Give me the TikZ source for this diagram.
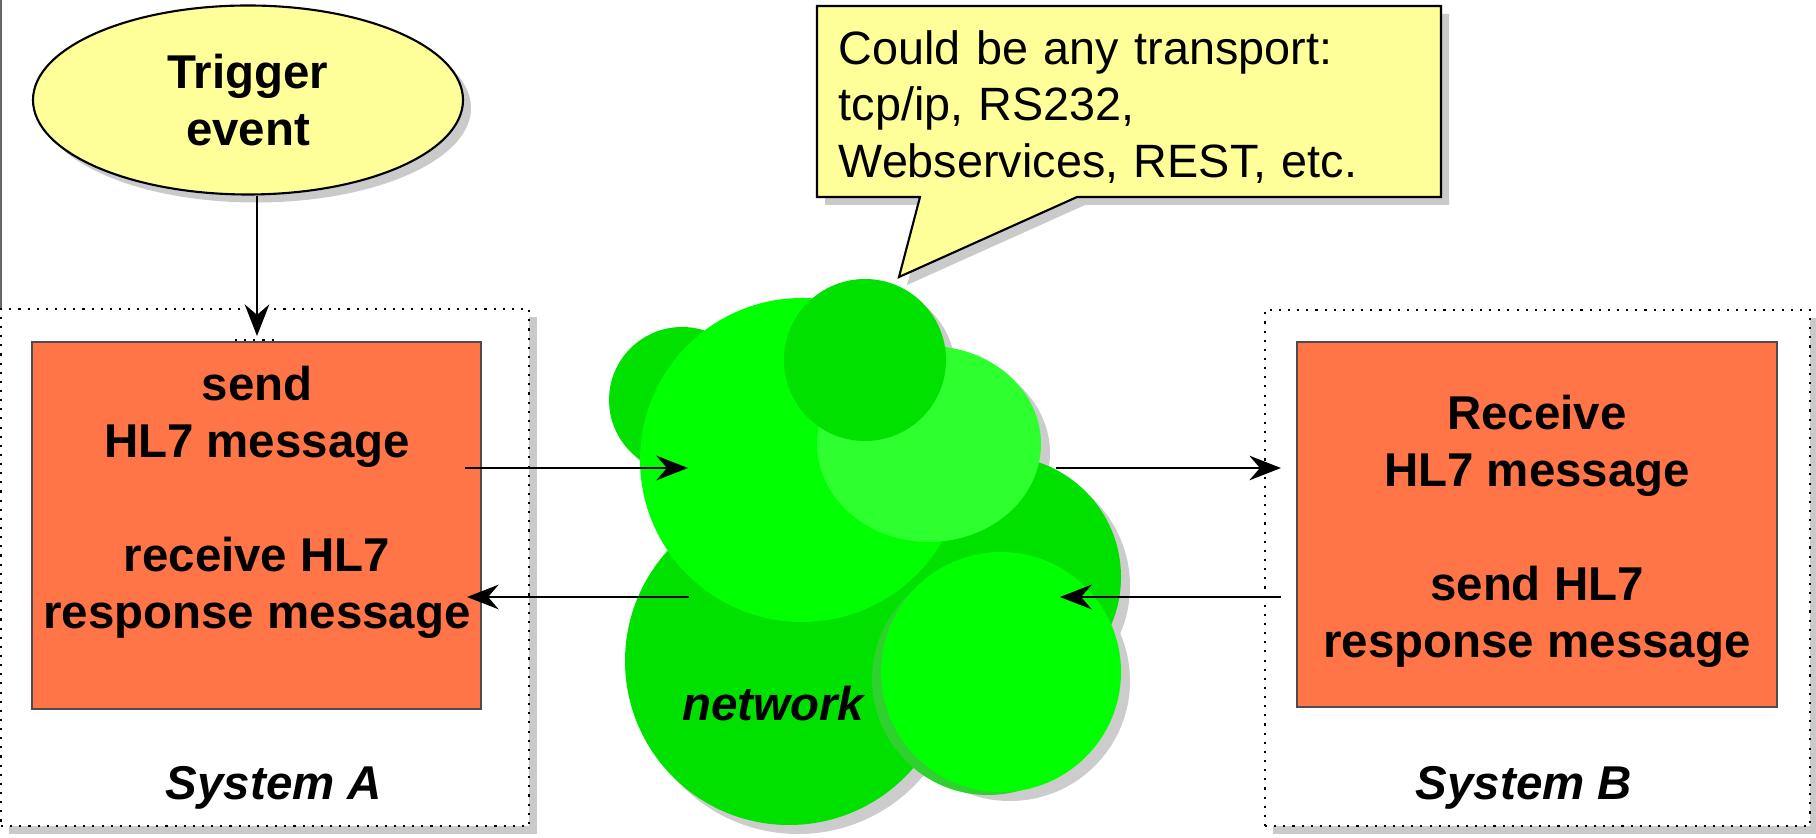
\documentclass[tikz,border=0pt]{standalone}
\usepackage{fontspec}
\setmainfont{Liberation Sans}
\usepackage{xcolor}
\usetikzlibrary{arrows.meta,shapes.geometric,shadows}

\definecolor{hlorange}{HTML}{FF7548}
\definecolor{noteyellow}{HTML}{FFFF99}
\definecolor{netbright}{HTML}{00FF00}
\definecolor{netdark}{HTML}{00E100}
\definecolor{netlight}{HTML}{2EFF2E}
\definecolor{netmid}{HTML}{2ED12E}

\begin{document}
\begin{tikzpicture}
  [font=\fontsize{13.5}{16.2}\selectfont,
   msg/.style={-{Stealth[length=9pt,width=7pt,inset=3pt]},line width=.6pt},
   shade/.style={drop shadow={shadow xshift=.08cm,shadow yshift=-.08cm,fill=black!35,opacity=.6}},
   sysbox/.style={draw,dotted,line width=.6pt,fill=white,shade,inner sep=0pt},
   hlbox/.style={draw=black!70,fill=hlorange,inner sep=0pt},
   hltext/.style={align=center,font=\fontsize{13.5}{16.2}\selectfont\bfseries},
   syslabel/.style={font=\fontsize{13.5}{16.2}\selectfont\bfseries\itshape}]
  \useasboundingbox (0,0) rectangle (18.16,8.37);

  \draw[black!60,line width=.6pt] (0.01,8.37) -- (0.01,5.28);

  % the two systems
  \node[sysbox,minimum width=5.28cm,minimum height=5.17cm] (sysA) at (2.65,2.695) {};
  \node[sysbox,minimum width=5.45cm,minimum height=5.16cm] (sysB) at (15.375,2.69) {};
  \node[hlbox,minimum width=4.49cm,minimum height=3.67cm] (boxA) at (2.565,3.115) {};
  \node[hlbox,minimum width=4.80cm,minimum height=3.65cm] (boxB) at (15.37,3.125) {};
  \draw[dotted,line width=.6pt] (2.35,4.97) -- (2.77,4.97);

  \node[hltext] (msgA) at (2.57,3.35) {send\\HL7 message\\[16.2pt]receive HL7\\response message};
  \node[hltext] (msgB) at (15.37,3.06) {Receive\\HL7 message\\[16.2pt]send HL7\\response message};
  \node[syslabel] (labA) at (2.74,0.49) {System A};
  \node[syslabel] (labB) at (15.24,0.49) {System B};

  % network cloud
  \foreach \x/\y/\rx/\ry in {7.89/1.76/1.64/1.64,6.82/4.37/.73/.73,10.00/2.60/1.21/1.21,
      8.02/3.77/1.62/1.62,9.29/3.93/1.12/.98,8.65/4.77/.81/.81,10.01/1.65/1.20/1.20}
    \fill[black!20] (\x+.09,\y-.09) ellipse [x radius=\rx,y radius=\ry];
  \foreach \x/\y/\rx/\ry/\c in {7.89/1.76/1.64/1.64/netdark,6.82/4.37/.73/.73/netdark,
      10.00/2.60/1.21/1.21/netdark,9.88/1.58/1.16/1.16/netmid,8.02/3.77/1.62/1.62/netbright,
      9.29/3.93/1.12/.98/netlight,8.65/4.77/.81/.81/netdark,10.01/1.65/1.20/1.20/netbright}
    \fill[\c] (\x,\y) ellipse [x radius=\rx,y radius=\ry];
  \node[syslabel] (net) at (7.73,1.33) {network};

  % trigger and note
  \node[ellipse,draw,line width=.6pt,fill=noteyellow,shade,minimum width=4.30cm,minimum height=1.89cm,
        hltext] (trig) at (2.48,7.37) {Trigger\\event};
  \filldraw[fill=noteyellow,line width=.6pt,shade] (8.17,8.31) -- (14.41,8.31) -- (14.41,6.40)
        -- (10.77,6.40) -- (8.99,5.60) -- (9.20,6.40) -- (8.17,6.40) -- cycle;
  \node[anchor=west,text width=5.9cm,align=left,inner sep=0pt,font=\fontsize{13.3}{16.2}\selectfont]
        (note) at (8.38,7.30) {Could be any transport:\\tcp/ip, RS232,\\Webservices, REST, etc.};

  \coordinate (trigin) at (2.57,5.01);
  \coordinate (aout) at (4.65,3.69);
  \coordinate (netin) at (6.88,3.69);
  \coordinate (netback) at (6.89,2.40);
  \coordinate (ain) at (4.67,2.40);
  \coordinate (netout) at (10.56,3.69);
  \coordinate (bin) at (12.81,3.69);
  \coordinate (bout) at (12.81,2.40);
  \coordinate (netret) at (10.60,2.40);

  \draw[msg] (trigin |- trig.south) -- (trigin);
  \foreach \from/\to in {aout/netin,netback/ain,netout/bin,bout/netret}
    \draw[msg] (\from) -- (\to);

\end{tikzpicture}
\end{document}
